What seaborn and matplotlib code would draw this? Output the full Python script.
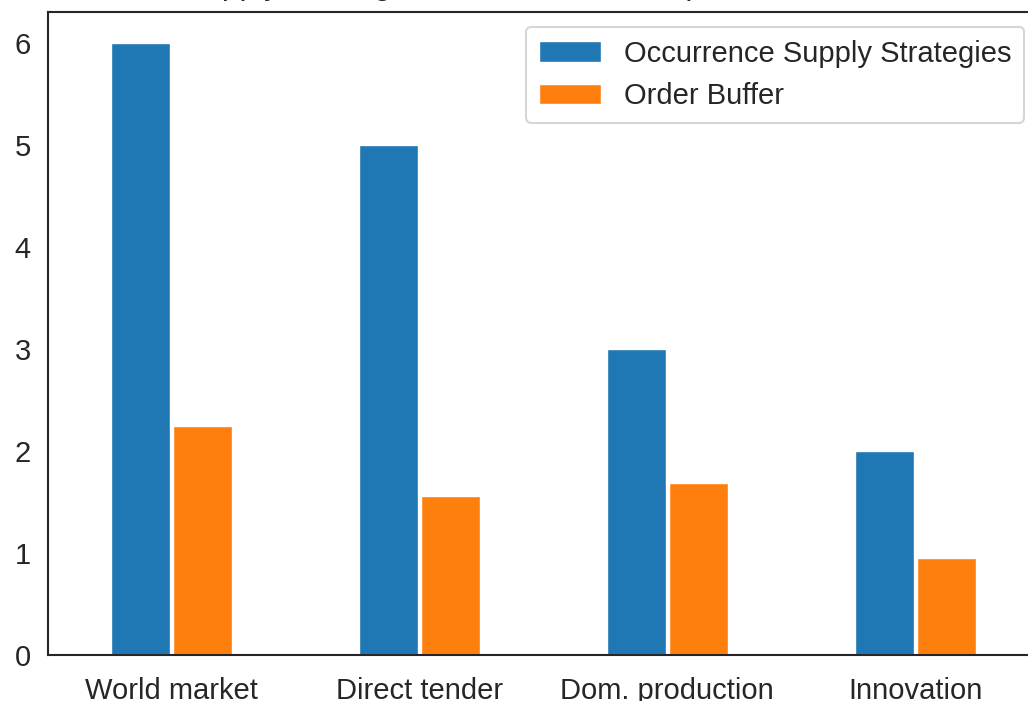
import numpy as np
import pandas as pd
import matplotlib
matplotlib.use("Agg")
import matplotlib.pyplot as plt
import seaborn as sns

# data
categories = ["World market", "Direct tender", "Dom. production", "Innovation"]
supply_strategies = [6, 5, 3, 2]
order_buffer = [2.24, 1.56, 1.69, 0.95]
series_names = ["Occurrence Supply Strategies", "Order Buffer"]
title = "Supply Strategies and Order Buffer per Occurrence"

df = pd.DataFrame({
    "category": categories * 2,
    "value": supply_strategies + order_buffer,
    "series": [series_names[0]] * len(categories) + [series_names[1]] * len(categories),
})

sns.set_theme(context="talk", style="white", font_scale=1.27)
plt.rcParams["font.family"] = ["Liberation Sans", "DejaVu Sans"]

W, H = 1028, 701
fig = plt.figure(figsize=(W / 100, H / 100), dpi=100)
# axes runs slightly past the right edge, as in the reference crop
ax = fig.add_axes([48 / W, 46 / H, (1039 - 48) / W, (655 - 12) / H])

sns.barplot(data=df, x="category", y="value", hue="series",
            palette=["#1f77b4", "#ff7f0e"], saturation=1, width=0.5, gap=0.05,
            edgecolor="white", linewidth=1, ax=ax)

ax.set_xlabel("")
ax.set_ylabel("")
ax.set_title(title, pad=13.3)
ax.tick_params(axis="x", pad=6.8)
for s in ax.spines.values():
    s.set_visible(True)
    s.set_color(".15")
    s.set_linewidth(1.5)

ax.legend(loc="upper right", handlelength=2.1, borderpad=0.45)

fig.savefig("out.png", dpi=100)
